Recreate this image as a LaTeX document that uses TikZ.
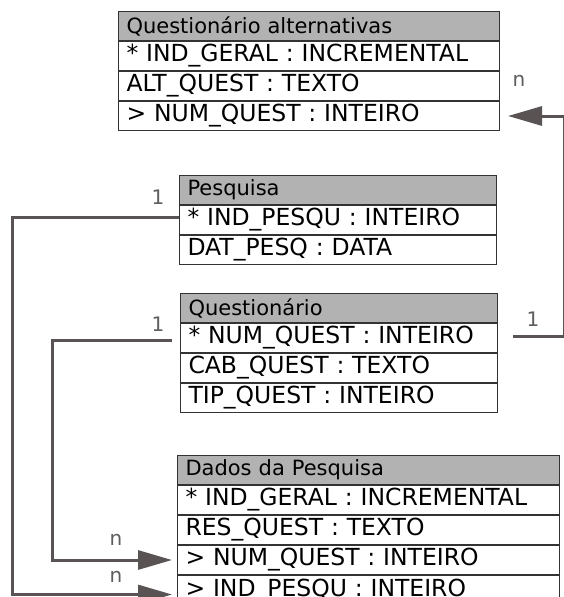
\documentclass[tikz,border=0pt]{standalone}
\usepackage{fontspec}
\setmainfont{DejaVu Sans}
\usetikzlibrary{arrows.meta,calc}
\definecolor{hdrgray}{HTML}{B2B2B2}
\definecolor{linkgray}{HTML}{595353}
\definecolor{cardgray}{HTML}{5E5E5E}
\definecolor{boxline}{HTML}{333333}
\begin{document}
\begin{tikzpicture}[x=1pt,y=-1pt,
  cell/.style={draw=boxline, line width=1pt, fill=white, minimum height=29pt, inner xsep=8pt, inner ysep=0pt, anchor=north west, font=\fontsize{23.5}{26}\selectfont, align=left},
  hdr/.style={cell, fill=hdrgray, font=\fontsize{21}{24}\selectfont},
  link/.style={draw=linkgray, line width=3pt},
  arr/.style={link, -{Triangle[length=34pt,width=19pt]}},
  card/.style={text=cardgray, font=\fontsize{20}{22}\selectfont, inner sep=0pt}
]
\useasboundingbox[fill=white] (0,0) rectangle (564,597);

% Questionario alternativas
\node[hdr, text width=365pt] (qa0) at (118,11) {Questionário alternativas};
\node[cell, text width=365pt] (qa1) at (qa0.south west) {* IND\_GERAL : INCREMENTAL};
\node[cell, text width=365pt] (qa2) at (qa1.south west) {ALT\_QUEST : TEXTO};
\node[cell, text width=365pt] (qa3) at (qa2.south west) {> NUM\_QUEST : INTEIRO};

% Pesquisa
\node[hdr, text width=301pt] (p0) at (179,175) {Pesquisa};
\node[cell, text width=301pt] (p1) at (p0.south west) {* IND\_PESQU : INTEIRO};
\node[cell, text width=301pt] (p2) at (p1.south west) {DAT\_PESQ : DATA};

% Questionario
\node[hdr, text width=301pt] (q0) at (180,293) {Questionário};
\node[cell, text width=301pt] (q1) at (q0.south west) {* NUM\_QUEST : INTEIRO};
\node[cell, text width=301pt] (q2) at (q1.south west) {CAB\_QUEST : TEXTO};
\node[cell, text width=301pt] (q3) at (q2.south west) {TIP\_QUEST : INTEIRO};

% Dados da Pesquisa
\node[hdr, text width=366pt] (d0) at (177,455) {Dados da Pesquisa};
\node[cell, text width=366pt] (d1) at (d0.south west) {* IND\_GERAL : INCREMENTAL};
\node[cell, text width=366pt] (d2) at (d1.south west) {RES\_QUEST : TEXTO};
\node[cell, text width=366pt] (d3) at (d2.south west) {> NUM\_QUEST : INTEIRO};
\node[cell, text width=366pt, minimum height=26pt, text height=18pt, text depth=3pt] (d4) at (d3.south west) {> IND\_PESQU : INTEIRO};

% connectors
\draw[arr] ($(q1.east)+(15,-2)$) -- ++(51,0) |- ($(qa3.east)+(8,0)$);
\draw[arr] ($(p1.west)+(0,-3)$) -- ++(-167,0) |- ($(d4.west)+(-5,6)$);
\draw[arr] ($(q1.west)+(-8,2)$) -- ++(-120,0) |- ($(d3.west)+(-5,0)$);

% cardinalities
\node[card] (cqa) at (519,81) {n};
\node[card] (cq) at (533,319) {1};
\node[card] (cp) at (158,197) {1};
\node[card] (cql) at (158,324) {1};
\node[card] (cd3) at (116,540) {n};
\node[card] (cd4) at (116,577) {n};
\end{tikzpicture}
\end{document}
